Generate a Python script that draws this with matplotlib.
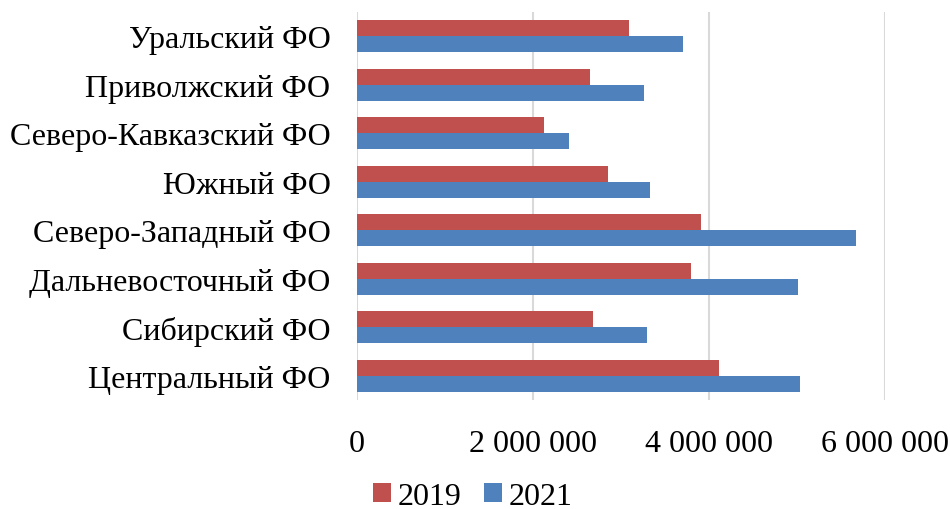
import matplotlib.pyplot as plt
import numpy as np

regions = ['Центральный ФО', 'Сибирский ФО', 'Дальневосточный ФО', 'Северо-Западный ФО',
           'Южный ФО', 'Северо-Кавказский ФО', 'Приволжский ФО', 'Уральский ФО']
vals_2019 = [4110000, 2680000, 3790000, 3910000, 2850000, 2120000, 2650000, 3090000]
vals_2021 = [5030000, 3300000, 5010000, 5670000, 3330000, 2410000, 3260000, 3710000]
xticks = [0, 2000000, 4000000, 6000000]
xtick_labels = ['0', '2 000 000', '4 000 000', '6 000 000']

plt.rcParams['font.family'] = ['Liberation Serif', 'DejaVu Serif']

fig = plt.figure(figsize=(9.5, 5.1), dpi=100)
ax = fig.add_axes([0.3758, 0.2137, 0.5558, 0.7608])

y = np.arange(len(regions))
h = 0.33
ax.barh(y + h / 2, vals_2019, height=h, color='#C0504D', label='2019')
ax.barh(y - h / 2, vals_2021, height=h, color='#4F81BD', label='2021')

ax.set_xlim(0, 6000000)
ax.set_ylim(-0.5, len(regions) - 0.5)
ax.set_yticks(y)
ax.set_yticklabels(regions, fontsize=23)
ax.set_xticks(xticks)
ax.set_xticklabels(xtick_labels, fontsize=23)
ax.tick_params(axis='y', length=0, pad=19)
ax.tick_params(axis='x', length=0, pad=21)
for s in ['top', 'right', 'bottom', 'left']:
    ax.spines[s].set_visible(False)
ax.xaxis.grid(True, color='#d9d9d9', linewidth=1.5)
ax.set_axisbelow(True)

fig.legend(loc='center', bbox_to_anchor=(0.498, 0.025), ncol=2, frameon=False,
           fontsize=23, handlelength=0.55, handleheight=0.55, handletextpad=0.22,
           columnspacing=0.7)

fig.savefig('out.png', dpi=100)
